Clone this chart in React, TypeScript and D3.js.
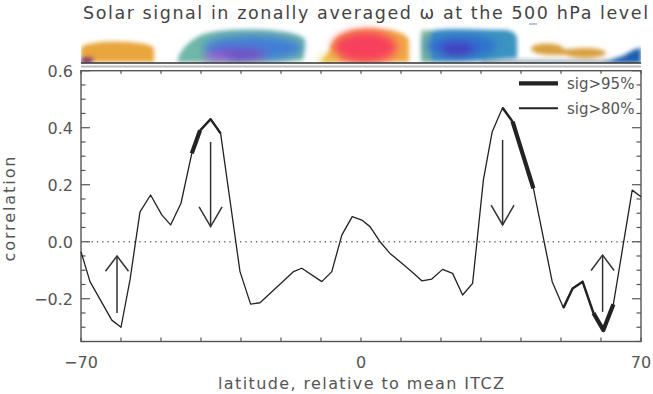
import React from "react";
import * as d3 from "d3";

const W = 653;
const H = 394;

const lats = [-70, -67.75, -62.3, -60, -57.75, -55.25, -52.6, -49.8, -47.6, -45, -42.3, -40.25, -37.6, -35.1, -30.25, -27.6, -25.25, -16.9, -14.8, -9.8, -7.3, -4.8, -2.2, 0.2, 2.25, 4.75, 7.25, 9.75, 12.7, 15.2, 17.7, 20.4, 22.9, 25.4, 27.9, 30.6, 32.8, 35.4, 37.9, 43.1, 47.8, 50.6, 52.9, 55.4, 58.1, 60.6, 63.1, 67.8, 70];
const corr = [-0.035, -0.14, -0.275, -0.3, -0.134, 0.105, 0.164, 0.094, 0.059, 0.135, 0.31, 0.39, 0.43, 0.38, -0.105, -0.219, -0.214, -0.105, -0.093, -0.14, -0.105, 0.023, 0.088, 0.076, 0.053, 0.0, -0.041, -0.07, -0.105, -0.137, -0.131, -0.097, -0.111, -0.187, -0.146, 0.217, 0.386, 0.47, 0.421, 0.187, -0.14, -0.232, -0.164, -0.14, -0.25, -0.31, -0.219, 0.181, 0.158];

// significance ranges (latitude spans)
const sig95Ranges: [number, number][] = [[-42.3, -40.25], [37.9, 43.1], [58.1, 63.1]];
const sigMidRanges: [number, number][] = [[-40.25, -35.1], [35.4, 37.9], [50.6, 58.1]];

// arrows: latitude, tail value, head value
const arrowLat = [-61, -37.6, 35.4, 60.4];
const arrowFrom = [-0.25, 0.35, 0.357, -0.246];
const arrowTo = [-0.05, 0.053, 0.059, -0.047];

const yTickLabels = [0.6, 0.4, 0.2, 0.0, -0.2];
const xTickLabels = [-70, 0, 70];

const left = 81, right = 641, top = 70.7, bottom = 341.5;
const x = d3.scaleLinear().domain([-70, 70]).range([left, right]);
const y = d3.scaleLinear().domain([-0.35, 0.6]).range([bottom, top]);

const font = "'DejaVu Sans', sans-serif";
const txt = "#555";

function subset(a: number, b: number) {
  const pts: [number, number][] = [];
  lats.forEach((l, i) => {
    if (l >= a - 1e-6 && l <= b + 1e-6) pts.push([l, corr[i]]);
  });
  return pts;
}

export default function App() {
  const line = d3
    .line<[number, number]>()
    .x((d) => x(d[0]))
    .y((d) => y(d[1]));
  const all: [number, number][] = lats.map((l, i) => [l, corr[i]]);

  const minorTicks = d3.range(-0.35, 0.6001, 0.05).map((v) => Math.round(v * 100) / 100);
  const majorY = d3.range(-0.2, 0.6001, 0.2).map((v) => Math.round(v * 100) / 100);
  const xTicks = d3.range(-70, 70.001, 10);

  return (
    <svg width={W} height={H} style={{ position: "absolute", left: 0, top: 0, background: "#fff" }}>
      <defs>
        <filter id="blur" filterUnits="userSpaceOnUse" x="0" y="0" width={W} height={80}>
          <feGaussianBlur stdDeviation="2" />
        </filter>
        <filter id="blur2" filterUnits="userSpaceOnUse" x="0" y="0" width={W} height={80}>
          <feGaussianBlur stdDeviation="5" />
        </filter>
        <clipPath id="stripClip">
          <rect x={left} y={20} width={right - left} height={43} />
        </clipPath>
      </defs>

      {/* Title */}
      <text x={83} y={19} fontFamily={font} fontSize={17.5} fill="#444" textLength={565} lengthAdjust="spacing">
        Solar signal in zonally averaged ω at the 500 hPa level
      </text>

      {/* colour strip */}
      <g clipPath="url(#stripClip)">
        <g filter="url(#blur)">
          {/* blob 1 orange */}
          <path d={`M${x(-70)},62 L${x(-70)},48 Q${x(-69)},42 ${x(-62)},41.5 Q${x(-53)},42 ${x(-51.8)},48 L${x(-51.7)},62 Z`} fill="#e9a63c" />
          <rect x={x(-70)} y={57} width={12} height={6} fill="#7a1a66" />
          {/* blob 2 teal/blue/purple */}
          <path d={`M${x(-46)},62 Q${x(-45)},45 ${x(-40)},35 Q${x(-36)},29 ${x(-25)},30 Q${x(-15)},32 ${x(-14)},40 L${x(-14.5)},60 Q${x(-30)},63 ${x(-46)},62 Z`} fill="#70b7a8" />
        </g>
        <g filter="url(#blur2)">
          <ellipse cx={x(-27)} cy={48} rx={50} ry={13} fill="#3f7fd6" />
          <ellipse cx={x(-31)} cy={55} rx={30} ry={7} fill="#7448c6" />
          <ellipse cx={x(-36)} cy={59} rx={14} ry={3} fill="#b070d8" />
        </g>
        <g filter="url(#blur)">
          {/* blob 3 orange/red */}
          <path d={`M${x(-10)},62 Q${x(-8)},55 ${x(-7.5)},45 Q${x(-6)},30 ${x(2)},28.5 Q${x(11)},29 ${x(12)},40 L${x(12)},62 Z`} fill="#f1a744" />
        </g>
        <g filter="url(#blur2)">
          <ellipse cx={x(1)} cy={47} rx={32} ry={16} fill="#f7405c" />
          <ellipse cx={x(-8.5)} cy={60} rx={8} ry={4} fill="#e6cf48" />
        </g>
        <g filter="url(#blur)">
          {/* blob 4 blue */}
          <path d={`M${x(15)},62 L${x(15)},38 Q${x(16)},29 ${x(22)},29.5 L${x(36)},30 Q${x(39)},31 ${x(39)},40 L${x(39)},58 Q${x(27)},62 ${x(15)},62 Z`} fill="#3a93c0" />
          <rect x={x(15)} y={30} width={10} height={32} fill="#7fb69a" opacity={0.8} />
        </g>
        <g filter="url(#blur2)">
          <ellipse cx={x(25)} cy={46} rx={35} ry={12} fill="#2f6fd0" />
          <ellipse cx={x(24)} cy={49} rx={18} ry={7} fill="#4538c0" />
        </g>
        <g filter="url(#blur)">
          {/* blob 5 tan */}
          <ellipse cx={x(46.5)} cy={49} rx={16} ry={5.5} fill="#d8a040" />
          <ellipse cx={x(56)} cy={53} rx={21} ry={5} fill="#d8a040" />
          <rect x={x(46)} y={49} width={40} height={6} fill="#d8a040" />
          {/* right blue wedge */}
          <path d={`M${x(60)},63 Q${x(64)},58 ${x(66)},55 Q${x(68)},49 ${x(70)},48 L${x(70)},63 Z`} fill="#1f5fae" />
          <rect x={x(30)} y={60} width={x(62) - x(30)} height={3} fill="#2e5e7a" opacity={0.6} />
        </g>
        <line x1={x(42)} x2={x(44)} y1={24} y2={24} stroke="#5a7a9a" strokeWidth={1.2} opacity={0.7} />
      </g>
      <line x1={left} x2={right} y1={63} y2={63} stroke="#333" strokeWidth={1.5} />
      <line x1={left} x2={right} y1={66.5} y2={66.5} stroke="#bbb" strokeWidth={2} />

      {/* frame */}
      <rect x={left} y={top} width={right - left} height={bottom - top} fill="none" stroke="#555" strokeWidth={1.4} />

      {/* y ticks */}
      {minorTicks.map((v) => {
        const major = majorY.some((m) => Math.abs(m - v) < 1e-6) || Math.abs(v - 0.6) < 1e-6;
        const len = major ? 9 : 4.5;
        return (
          <g key={"yt" + v}>
            <line x1={left} x2={left + len} y1={y(v)} y2={y(v)} stroke="#555" strokeWidth={1.2} />
            <line x1={right} x2={right - len} y1={y(v)} y2={y(v)} stroke="#555" strokeWidth={1.2} />
          </g>
        );
      })}
      {xTicks.map((v) => (
        <g key={"xt" + v}>
          <line x1={x(v)} x2={x(v)} y1={bottom} y2={bottom - 4} stroke="#555" strokeWidth={1.2} />
          <line x1={x(v)} x2={x(v)} y1={top} y2={top + 3} stroke="#555" strokeWidth={1.2} />
        </g>
      ))}

      {/* y tick labels */}
      {yTickLabels.map((v) => (
        <text key={"yl" + v} x={73} y={y(v) + 6} textAnchor="end" fontFamily={font} fontSize={16} fill={txt}>
          {v < 0 ? "\u2212" + Math.abs(v).toFixed(1) : v.toFixed(1)}
        </text>
      ))}
      {xTickLabels.map((v) => (
        <text key={"xl" + v} x={x(v)} y={368} textAnchor="middle" fontFamily={font} fontSize={16} fill={txt}>
          {v < 0 ? "\u2212" + Math.abs(v) : String(v)}
        </text>
      ))}

      {/* axis titles */}
      <text x={361} y={389} textAnchor="middle" fontFamily={font} fontSize={16} fill={txt} textLength={286} lengthAdjust="spacing">
        latitude, relative to mean ITCZ
      </text>
      <text transform={`translate(15,${209}) rotate(-90)`} textAnchor="middle" fontFamily={font} fontSize={16} fill={txt} textLength={105} lengthAdjust="spacing">
        correlation
      </text>

      {/* zero line */}
      <line x1={left} x2={right} y1={y(0)} y2={y(0)} stroke="#666" strokeWidth={1.3} strokeDasharray="1.3,4" />

      {/* curve */}
      <path d={line(all) || ""} fill="none" stroke="#222" strokeWidth={1.3} strokeLinejoin="round" />
      {sigMidRanges.map((r, i) => (
        <path key={"m" + i} d={line(subset(r[0], r[1])) || ""} fill="none" stroke="#222" strokeWidth={2.4} strokeLinejoin="round" />
      ))}
      {sig95Ranges.map((r, i) => (
        <path key={"s" + i} d={line(subset(r[0], r[1])) || ""} fill="none" stroke="#222" strokeWidth={4.2} strokeLinejoin="round" />
      ))}

      {/* arrows */}
      {arrowLat.map((l, i) => {
        const ax = x(l);
        const y1 = y(arrowFrom[i]);
        const y2 = y(arrowTo[i]);
        const dir = y2 < y1 ? 1 : -1;
        const hw = 11.5;
        const hh = 18 * (dir === 1 ? 0.85 : 1.1);
        return (
          <g key={"a" + i} stroke="#333" strokeWidth={1.5} fill="none">
            <line x1={ax} x2={ax} y1={y1} y2={y2} />
            <polyline points={`${ax - hw},${y2 + dir * hh} ${ax},${y2} ${ax + hw},${y2 + dir * hh}`} />
          </g>
        );
      })}

      {/* legend */}
      <line x1={519} x2={558} y1={83.3} y2={83.3} stroke="#222" strokeWidth={4.2} />
      <text x={567} y={88.5} fontFamily={font} fontSize={15} fill={txt}>sig&gt;95%</text>
      <line x1={519} x2={558} y1={108.3} y2={108.3} stroke="#222" strokeWidth={2} />
      <text x={567} y={113.5} fontFamily={font} fontSize={15} fill={txt}>sig&gt;80%</text>
    </svg>
  );
}
